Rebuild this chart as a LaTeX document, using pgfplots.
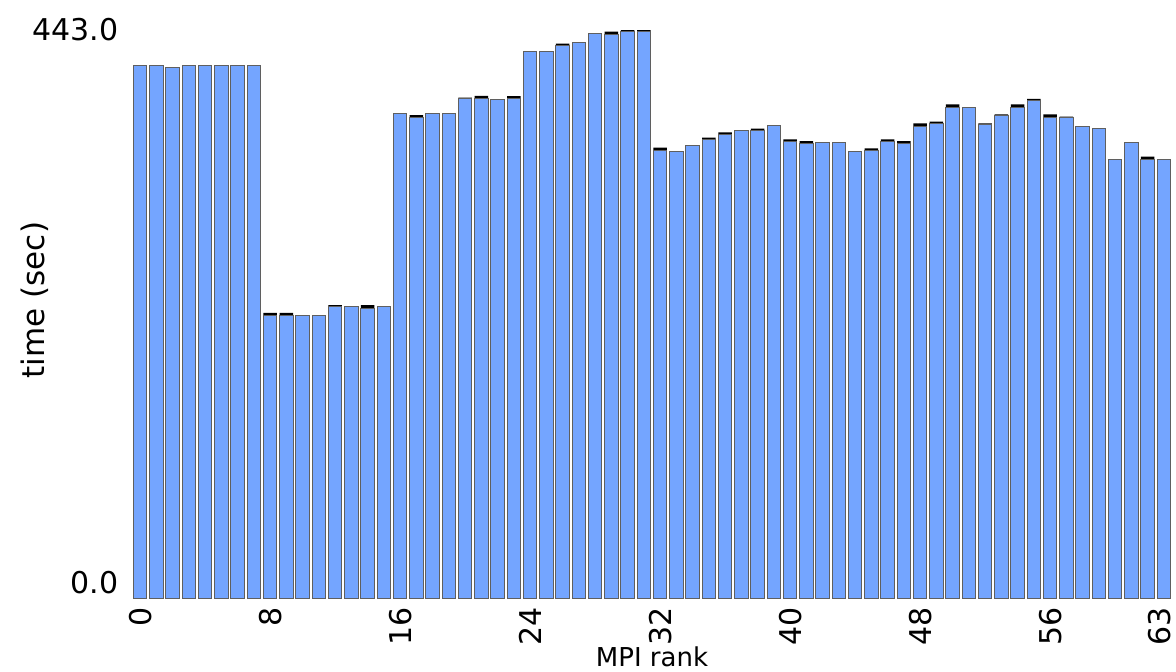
\documentclass[border=0pt]{standalone}
\usepackage{pgfplots}
\usepackage{pgfplotstable}
\pgfplotsset{compat=1.18}
\usepackage{fontspec}
\setmainfont{DejaVu Sans}
\definecolor{barblue}{RGB}{116,165,255}
\definecolor{baredge}{RGB}{95,95,95}

\pgfplotstableread{
rank base cap
0 415.7 0
1 415.7 0
2 413.7 0
3 415.7 0
4 415.7 0
5 415.7 0
6 415.7 0
7 415.7 0
8 220.3 2
9 220.3 2
10 220.7 0
11 220.7 0
12 227.5 1
13 227.7 0
14 226.0 2.5
15 227.7 0
16 378.0 0
17 374.7 2
18 378.0 0
19 378.0 0
20 389.2 1
21 389.7 2
22 388.9 0
23 389.5 2
24 426.6 0
25 426.6 0
26 430.8 1.5
27 433.4 0
28 440.1 0
29 439.2 2.5
30 442.0 1
31 442.0 1
32 349.2 2
33 348.1 0
34 352.7 0
35 357.5 1.5
36 361.2 2
37 364.5 0
38 364.5 1.5
39 368.6 0
40 355.7 2
41 354.4 2
42 355.4 0
43 355.4 0
44 348.4 0
45 348.7 2
46 355.7 2
47 354.4 2
48 367.6 2.5
49 370.0 1.5
50 382.5 2.5
51 382.4 0
52 369.2 1
53 376.2 1
54 382.5 2.5
55 387.7 1.5
56 374.7 2.5
57 374.4 1
58 367.6 0
59 366.0 0
60 342.1 0
61 355.4 0
62 342.2 2
63 342.1 0
}\data

\begin{document}
\begin{tikzpicture}
\begin{axis}[
  scale only axis, width=520pt, height=284pt,
  at={(0,0)}, anchor=south west,
  xmin=-0.5, xmax=63.5, ymin=0, ymax=443,
  ybar stacked, bar width=0.82,
  axis line style={draw=none},
  major tick length=0pt, tick style={draw=none},
  /pgf/number format/assume math mode=true,
  xtick={0,8,16,24,32,40,48,56},
  xticklabels={0,8,16,24,32,40,48,56},
  extra x ticks={63}, extra x tick labels={63},
  extra x tick style={xticklabel style={yshift=2pt}},
  ytick={443}, yticklabels={443.0},
  extra y ticks={0}, extra y tick labels={0.0},
  extra y tick style={yticklabel style={yshift=7.5pt}},
  ticklabel style={font=\fontsize{15}{18}\selectfont},
  yticklabel style={anchor=east, inner sep=0pt, xshift=-6.5pt},
  xticklabel style={rotate=90, anchor=east, inner sep=0pt, xshift=-4.5pt},
  xlabel={MPI rank},
  xlabel style={at={(axis description cs:0.5,-0.1039)}, anchor=center, inner sep=0pt, font=\fontsize{13}{15}\selectfont},
  ylabel={time (sec)},
  ylabel style={at={(axis description cs:-0.0933,0.5246)}, anchor=center, inner sep=0pt, font=\fontsize{15.5}{18}\selectfont},
]
\addplot[fill=barblue, draw=baredge, line width=0.5pt] table[x=rank, y=base] {\data};
\addplot[fill=black, draw=none] table[x=rank, y=cap] {\data};
\end{axis}
\pgfresetboundingbox
\path[use as bounding box] (-66pt,-36.5pt) rectangle (522pt,299pt);
\end{tikzpicture}
\end{document}
